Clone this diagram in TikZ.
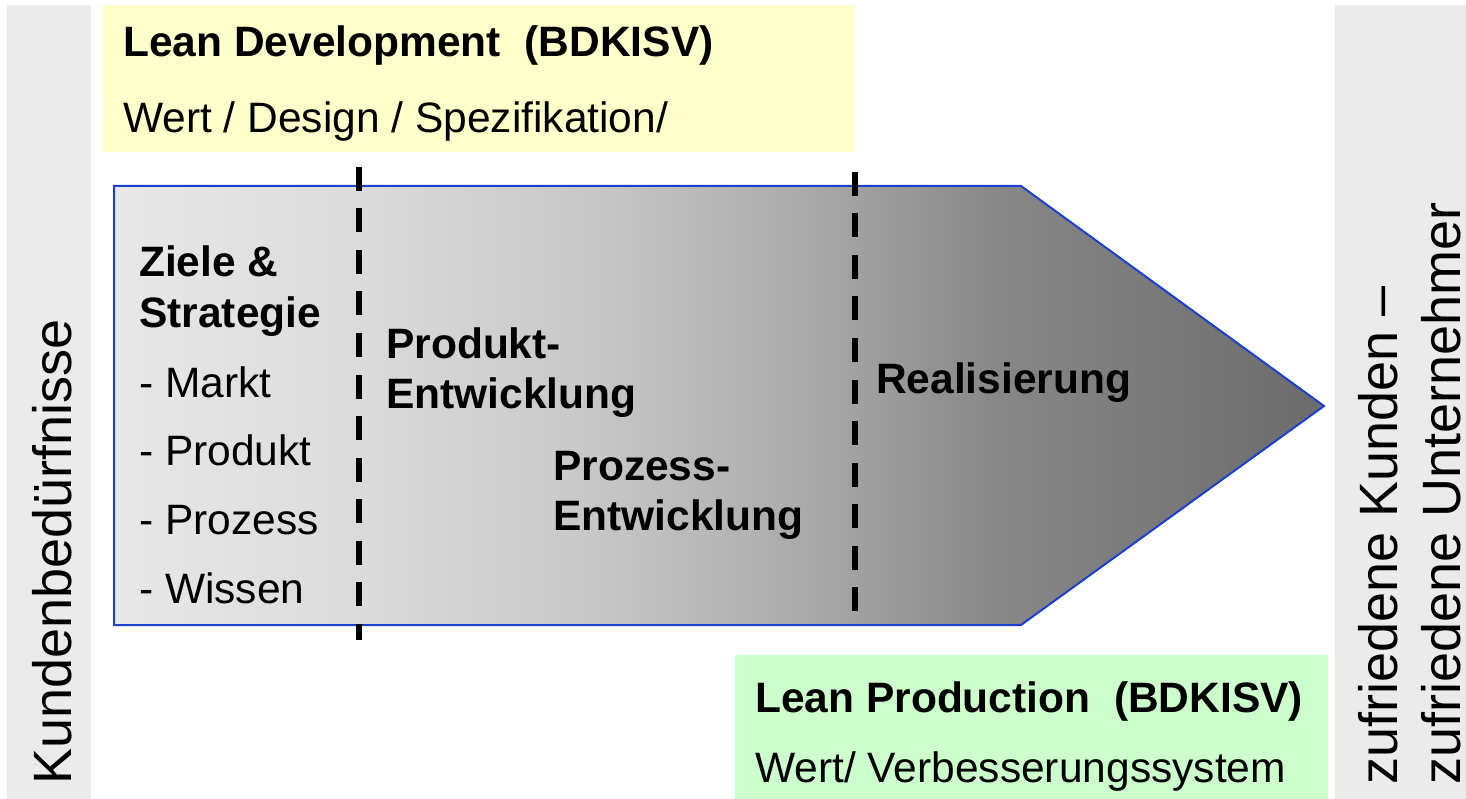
\documentclass[tikz,border=0pt]{standalone}
\usepackage{fontspec}
\setmainfont{Liberation Sans}

\definecolor{panelgray}{HTML}{EBEBEB}
\definecolor{devyellow}{HTML}{FFFFCC}
\definecolor{prodgreen}{HTML}{CCFFCC}
\definecolor{arrowblue}{HTML}{1C3FD0}

% grey ramp of the process arrow (25bp..75bp span the arrow's width)
\pgfdeclarehorizontalshading{arrowshade}{100bp}{%
  color(0bp)=(black!9);
  color(25bp)=(black!9);
  color(35bp)=(black!14);
  color(45bp)=(black!22);
  color(53.4bp)=(black!33);
  color(61.6bp)=(black!47);
  color(75bp)=(black!58);
  color(100bp)=(black!58)}

\tikzset{
  txt/.style={inner sep=0pt, anchor=base west, font=\fontsize{42.5}{48}\selectfont},
  btxt/.style={txt, font=\fontsize{42.5}{48}\selectfont\bfseries},
  sidetxt/.style={inner sep=0pt, text depth=0pt, anchor=base west, rotate=90,
    font=\fontsize{54}{62}\selectfont},
  phase/.style={line width=6pt, dash pattern=on 24pt off 17.5pt}
}

\begin{document}
\begin{tikzpicture}[x=1pt,y=-1pt]
\useasboundingbox (0,0) rectangle (1466,799);

% background panels
\fill[panelgray] (7,5) rectangle (91,799);
\fill[panelgray] (1335,5) rectangle (1466,799);
\fill[devyellow] (103,5) rectangle (855,152);
\fill[prodgreen] (735,655) rectangle (1328,799);

% process arrow
\path[shade, shading=arrowshade, draw=arrowblue, line width=2pt]
  (114,186) -- (1021,186) -- (1324,406) -- (1021,625) -- (114,625) -- cycle;

% phase boundaries
\coordinate (b1top) at (359,167);
\coordinate (b1bot) at (359,640);
\coordinate (b2top) at (855,172);
\coordinate (b2bot) at (855,612);
\draw[phase] (b1top) -- (b1bot);
\draw[phase] (b2top) -- (b2bot);

% header boxes
\node[btxt] (devtitle) at (123,57) {Lean Development\ \ (BDKISV)};
\node[txt]  (devsub)   at (123,133) {Wert / Design / Spezifikation/};
\node[btxt] (prodtitle) at (755,712) {Lean Production\ \ (BDKISV)};
\node[txt]  (prodsub)   at (755,782) {Wert/ Verbesserungssystem};

% phases
\node[btxt] (ziele)  at (139,277) {Ziele \&};
\node[btxt] (strat)  at (139,327) {Strategie};
\node[txt]  (markt)  at (139,397) {- Markt};
\node[txt]  (prodk)  at (139,465) {- Produkt};
\node[txt]  (proz)   at (139,534) {- Prozess};
\node[txt]  (wissen) at (139,603) {- Wissen};

\node[btxt] (pe1) at (386,358) {Produkt-};
\node[btxt] (pe2) at (386,408) {Entwicklung};
\node[btxt] (ze1) at (553,480) {Prozess-};
\node[btxt] (ze2) at (553,530) {Entwicklung};
\node[btxt] (real) at (876,393) {Realisierung};

% side labels
\node[sidetxt] (needs) at (71,785) {Kundenbedürfnisse};
\node[sidetxt] (happy1) at (1397,785) {zufriedene Kunden –};
\node[sidetxt] (happy2) at (1460,785) {zufriedene Unternehmer};
\end{tikzpicture}
\end{document}
